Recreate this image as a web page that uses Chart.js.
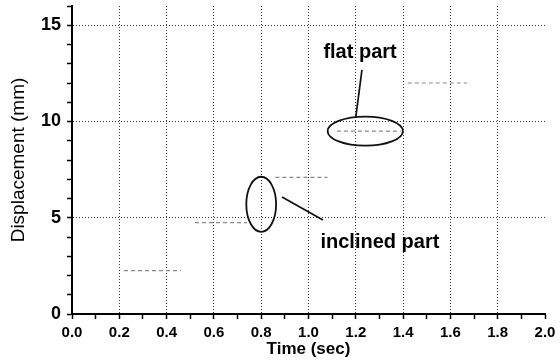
<!DOCTYPE html>
<html>
<head>
<meta charset="utf-8">
<script src="https://cdn.jsdelivr.net/npm/chart.js@4/dist/chart.umd.min.js"></script>
<style>
  html, body { margin: 0; padding: 0; background: #fff; }
  #wrap { width: 560px; height: 360px; }
</style>
</head>
<body>
<div id="wrap"><canvas id="chart"></canvas></div>
<script>
// step levels of the displacement trace (start time, end time, level in mm)
const stepStart = [0.22, 0.52, 0.86, 1.12, 1.42];
const stepEnd   = [0.46, 0.74, 1.08, 1.39, 1.67];
const stepLevel = [2.25, 4.75, 7.1, 9.5, 12.0];

// axis ranges and labelled ticks
const xMax = 2.0, xStep = 0.1;
const yMax = 16, yStep = 1;
const xLabelEvery = 0.2;
const yLabelEvery = 5;

// call-outs: ellipses (center x, center y, half width, half height) in data units
const ellipseCx = [0.80, 1.24];
const ellipseCy = [5.7, 9.5];
const ellipseRx = [0.063, 0.159];
const ellipseRy = [1.43, 0.75];

// pointer lines (x1, y1) -> (x2, y2), data units
const pointerX1 = [1.226, 0.888];
const pointerY1 = [12.68, 6.08];
const pointerX2 = [1.200, 1.061];
const pointerY2 = [10.23, 4.88];

const noteText = ['flat part', 'inclined part'];
const noteX = [1.218, 1.302];
const noteY = [13.56, 3.74];

// one dataset, segments separated by null gaps
const trace = [];
stepLevel.forEach((lv, i) => {
  trace.push({ x: stepStart[i], y: lv });
  trace.push({ x: stepEnd[i], y: lv });
  trace.push({ x: (stepEnd[i] + (stepStart[i + 1] ?? stepEnd[i] + 0.05)) / 2, y: null });
});

const FONT = '"Liberation Sans", Arial, sans-serif';

const callouts = {
  id: 'callouts',
  afterDatasetsDraw(chart) {
    const { ctx, scales: { x, y } } = chart;
    ctx.save();
    ctx.strokeStyle = '#111';
    ctx.lineWidth = 1.8;
    ellipseCx.forEach((cx, i) => {
      const px = x.getPixelForValue(cx), py = y.getPixelForValue(ellipseCy[i]);
      const rx = Math.abs(x.getPixelForValue(cx + ellipseRx[i]) - px);
      const ry = Math.abs(y.getPixelForValue(ellipseCy[i] + ellipseRy[i]) - py);
      ctx.beginPath();
      ctx.ellipse(px, py, rx, ry, 0, 0, Math.PI * 2);
      ctx.stroke();
    });
    ctx.lineWidth = 1.7;
    pointerX1.forEach((x1, i) => {
      ctx.beginPath();
      ctx.moveTo(x.getPixelForValue(x1), y.getPixelForValue(pointerY1[i]));
      ctx.lineTo(x.getPixelForValue(pointerX2[i]), y.getPixelForValue(pointerY2[i]));
      ctx.stroke();
    });
    ctx.fillStyle = '#000';
    ctx.textAlign = 'center';
    ctx.textBaseline = 'middle';
    noteText.forEach((t, i) => {
      ctx.font = 'bold 20px ' + FONT;
      ctx.fillText(t, x.getPixelForValue(noteX[i]), y.getPixelForValue(noteY[i]));
    });
    ctx.restore();
  }
};

const isMultiple = (v, step) => Math.abs(v / step - Math.round(v / step)) < 1e-6;

// keep the plot box fixed: no extra room for half tick labels
const noEdgePadding = s => { s.paddingTop = 0; s.paddingBottom = 0; s.paddingLeft = 0; s.paddingRight = 0; };

new Chart(document.getElementById('chart'), {
  type: 'line',
  data: {
    datasets: [{
      data: trace,
      borderColor: '#8a8a8a',
      borderWidth: 1.2,
      borderDash: [4, 3],
      pointRadius: 0,
      spanGaps: false,
      tension: 0
    }]
  },
  options: {
    responsive: true,
    maintainAspectRatio: false,
    animation: false,
    parsing: false,
    layout: { padding: { left: 0, right: 15, top: 6, bottom: 0 } },
    plugins: { legend: { display: false }, tooltip: { enabled: false } },
    scales: {
      x: {
        type: 'linear',
        min: 0, max: xMax,
        afterFit: s => { s.height = 46; noEdgePadding(s); },
        ticks: {
          stepSize: xStep,
          autoSkip: false,
          maxRotation: 0,
          padding: 5,
          color: '#000',
          font: { family: FONT, size: 15, weight: 'bold' },
          callback: v => isMultiple(v, xLabelEvery) ? v.toFixed(1) : ''
        },
        grid: {
          color: c => (c.tick && isMultiple(c.tick.value, xLabelEvery) && c.tick.value > 0 && c.tick.value < xMax) ? '#333' : 'rgba(0,0,0,0)',
          tickColor: '#000',
          tickLength: 5,
          tickWidth: 1.5,
          lineWidth: 1
        },
        border: { color: '#000', width: 2, dash: [1, 2] },
        title: {
          display: true,
          text: 'Time (sec)',
          color: '#000',
          padding: { top: 0, bottom: 0 },
          font: { family: FONT, size: 17, weight: 'bold' }
        }
      },
      y: {
        type: 'linear',
        min: 0, max: yMax,
        afterFit: s => { s.width = 72; noEdgePadding(s); },
        ticks: {
          stepSize: yStep,
          autoSkip: false,
          padding: 6,
          color: '#000',
          font: { family: FONT, size: 18, weight: 'bold' },
          callback: v => isMultiple(v, yLabelEvery) ? String(v) : ''
        },
        grid: {
          color: c => (c.tick && isMultiple(c.tick.value, yLabelEvery) && c.tick.value > 0) ? '#333' : 'rgba(0,0,0,0)',
          tickColor: '#000',
          tickLength: 5,
          tickWidth: 1.5,
          lineWidth: 1
        },
        border: { color: '#000', width: 2, dash: [1, 2] },
        title: {
          display: true,
          text: 'Displacement (mm)',
          color: '#000',
          padding: { top: 7, bottom: 0 },
          font: { family: FONT, size: 19 }
        }
      }
    }
  },
  plugins: [callouts]
});
</script>
</body>
</html>
